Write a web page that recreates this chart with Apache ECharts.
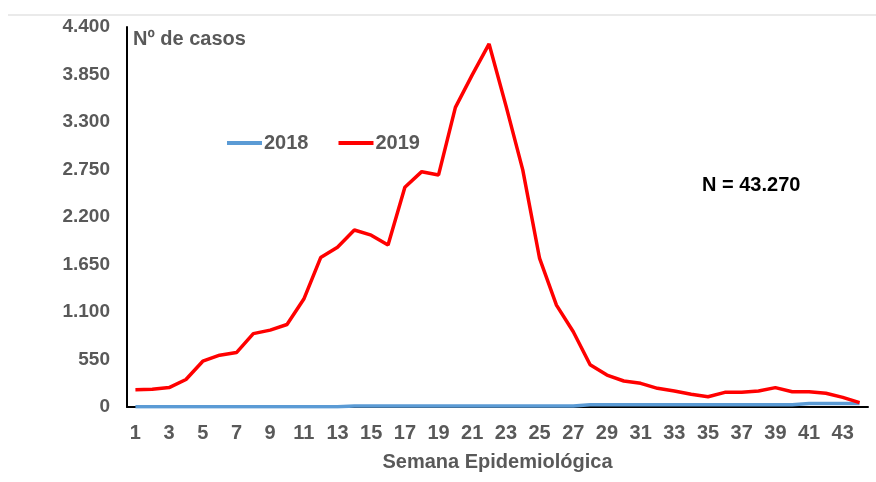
<!DOCTYPE html>
<html>
<head>
<meta charset="utf-8">
<script src="https://cdn.jsdelivr.net/npm/echarts@6/dist/echarts.min.js"></script>
<style>
html,body{margin:0;padding:0;background:#fff;}
#chart{width:876px;height:482px;}
</style>
</head>
<body>
<div id="chart"></div>
<script>
var weeks = [];
for (var w = 1; w <= 44; w++) weeks.push(String(w));

var cases2018 = [2,2,2,2,2,2,2,2,2,2,2,2,2,12,12,12,12,12,12,12,12,12,12,12,12,12,12,25,25,25,25,25,25,25,25,25,25,25,25,25,40,40,40,40];
var cases2019 = [200,205,225,318,530,600,630,850,890,955,1250,1730,1850,2050,1990,1875,2545,2725,2687,3470,3845,4204,3490,2745,1720,1180,872,490,370,301,274,216,185,147,119,170,170,185,224,177,177,159,112,50];

var yTickLabels = ['0','550','1.100','1.650','2.200','2.750','3.300','3.850','4.400'];
var yStep = 550, yMax = 4400;

var gray = '#595959';
var chart = echarts.init(document.getElementById('chart'));
chart.setOption({
  animation: false,
  backgroundColor: '#ffffff',
  textStyle: { fontFamily: 'Liberation Sans, Arial, sans-serif' },
  grid: { left: 127, right: 8, top: 27, bottom: 75, containLabel: false },
  legend: {
    left: 222, top: 128,
    itemWidth: 35, itemHeight: 4, itemGap: 30,
    icon: 'rect',
    textStyle: { color: gray, fontSize: 20, fontWeight: 'bold', fontFamily: 'Liberation Sans, Arial, sans-serif', padding: [0,0,0,-3] },
    data: ['2018', '2019']
  },
  graphic: [
    { type: 'line', shape: { x1: 8, y1: 15, x2: 876, y2: 15 }, style: { stroke: '#e3e3e3', lineWidth: 1.5 } },
    { type: 'text', left: 133, top: 29, style: { text: 'Nº de casos', fill: gray, font: 'bold 20px "Liberation Sans", Arial, sans-serif' } },
    { type: 'text', left: 702, top: 175, style: { text: 'N = 43.270', fill: '#000', font: 'bold 20px "Liberation Sans", Arial, sans-serif' } }
  ],
  xAxis: {
    type: 'category',
    data: weeks,
    boundaryGap: true,
    name: 'Semana Epidemiológica',
    nameLocation: 'middle',
    nameGap: 45,
    nameTextStyle: { color: gray, fontSize: 20, fontWeight: 'bold' },
    axisLine: { lineStyle: { color: '#000', width: 2 } },
    axisTick: { show: false },
    axisLabel: { interval: 1, color: gray, fontSize: 20, fontWeight: 'bold', margin: 16 },
    splitLine: { show: false }
  },
  yAxis: {
    type: 'value',
    min: 0, max: yMax, interval: yStep,
    axisLine: { show: true, lineStyle: { color: '#000', width: 2 } },
    axisTick: { show: false },
    splitLine: { show: false },
    axisLabel: {
      color: gray, fontSize: 19, fontWeight: 'bold', margin: 17,
      formatter: function (v) { return yTickLabels[Math.round(v / yStep)]; }
    }
  },
  series: [
    { name: '2018', type: 'line', data: cases2018, symbol: 'none', color: '#5b9bd5', lineStyle: { width: 3.5, color: '#5b9bd5' } },
    { name: '2019', type: 'line', data: cases2019, symbol: 'none', color: '#ff0000', lineStyle: { width: 3.5, color: '#ff0000' } }
  ]
});
</script>
</body>
</html>
